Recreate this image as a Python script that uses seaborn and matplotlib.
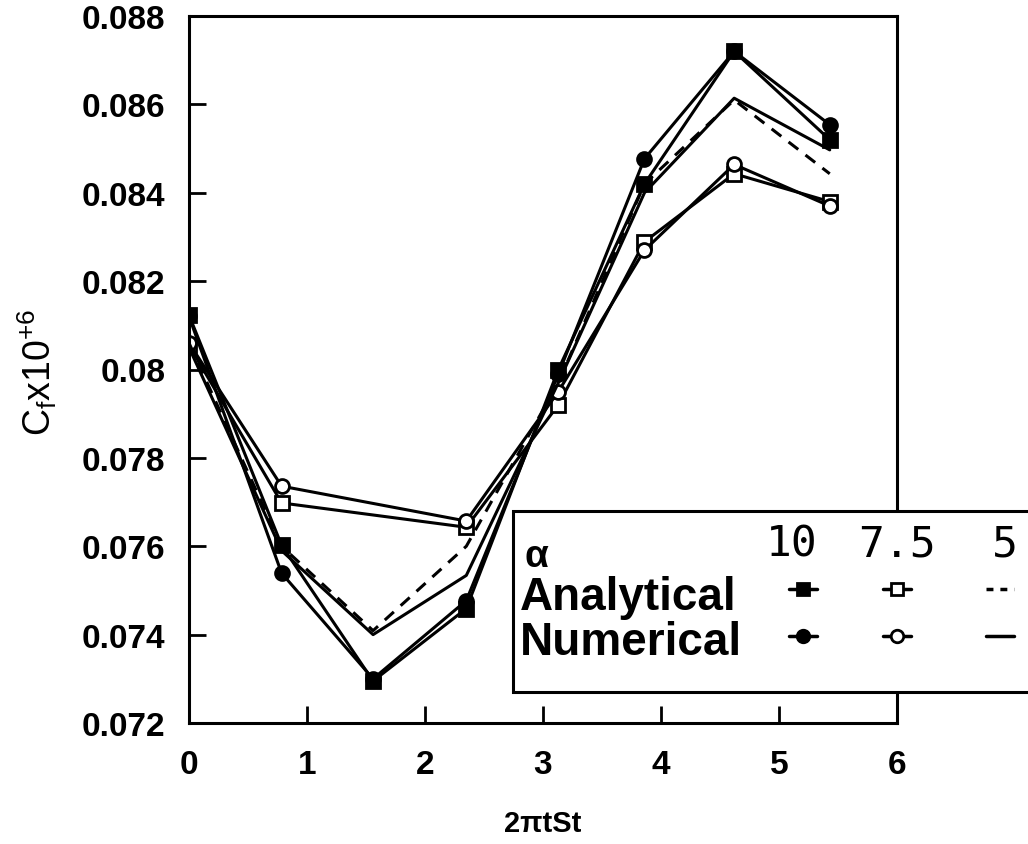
import numpy as np
import pandas as pd
import matplotlib
matplotlib.use("Agg")
import matplotlib.pyplot as plt
import seaborn as sns
from matplotlib.patches import Rectangle
from matplotlib.lines import Line2D

# ---- data ----
x_all = [0.0, 0.785, 1.56, 2.35, 3.13, 3.86, 4.62, 5.43]
x_75 = [0.0, 0.785, 2.35, 3.13, 3.86, 4.62, 5.43]   # alpha = 7.5 has no point near 1.56

analytical_10 = [0.08123, 0.07602, 0.07295, 0.07459, 0.08000, 0.08420, 0.08720, 0.08520]
numerical_10 = [0.08120, 0.07539, 0.07300, 0.07477, 0.07990, 0.08477, 0.08720, 0.08554]
analytical_75 = [0.08055, 0.07698, 0.07643, 0.07920, 0.08289, 0.08443, 0.08380]
numerical_75 = [0.08060, 0.07736, 0.07657, 0.07950, 0.08270, 0.08464, 0.08370]
analytical_5 = [0.08060, 0.07600, 0.07409, 0.07600, 0.07970, 0.08420, 0.08610, 0.08443]
numerical_5 = [0.08050, 0.07590, 0.07400, 0.07534, 0.07970, 0.08400, 0.08614, 0.08497]

y_ticks = [0.072, 0.074, 0.076, 0.078, 0.080, 0.082, 0.084, 0.086, 0.088]
y_tick_labels = ["0.072", "0.074", "0.076", "0.078", "0.08", "0.082", "0.084", "0.086", "0.088"]
x_ticks = [0, 1, 2, 3, 4, 5, 6]
legend_cols = ["10", "7.5", "5"]
legend_rows = ["Analytical", "Numerical"]

sns.set_style("ticks")
plt.rcParams["font.family"] = ["Liberation Sans", "DejaVu Sans"]
plt.rcParams["mathtext.fontset"] = "custom"
plt.rcParams["mathtext.rm"] = "Liberation Sans"
plt.rcParams["mathtext.it"] = "Liberation Sans"
plt.rcParams["text.color"] = "black"
plt.rcParams["axes.labelcolor"] = "black"
plt.rcParams["xtick.color"] = "black"
plt.rcParams["ytick.color"] = "black"

W, H = 1028, 845
fig = plt.figure(figsize=(W / 100, H / 100), dpi=100)
L, R, T, B = 189, 897, 17, 724
ax = fig.add_axes([L / W, 1 - B / H, (R - L) / W, (B - T) / H])

series = [
    (x_all, analytical_10, dict(marker="s", linestyle="-", mfc="black")),
    (x_all, numerical_10, dict(marker="o", linestyle="-", mfc="black")),
    (x_75, analytical_75, dict(marker="s", linestyle="-", mfc="white")),
    (x_75, numerical_75, dict(marker="o", linestyle="-", mfc="white")),
    (x_all, analytical_5, dict(marker=None, linestyle=(0, (4, 3)), mfc=None)),
    (x_all, numerical_5, dict(marker=None, linestyle="-", mfc=None)),
]
for xs, ys, st in series:
    df = pd.DataFrame({"x": xs, "y": ys})
    kw = dict(color="black", linewidth=2.2, ax=ax, linestyle=st["linestyle"])
    if st["marker"] is not None:
        kw.update(marker=st["marker"], markersize=10, markerfacecolor=st["mfc"],
                  markeredgecolor="black", markeredgewidth=2)
    sns.lineplot(data=df, x="x", y="y", sort=False, estimator=None, **kw)

ax.set_xlim(0, 6)
ax.set_ylim(0.072, 0.088)
ax.set_yticks(y_ticks)
ax.set_yticklabels(y_tick_labels)
ax.set_xticks(x_ticks)
ax.set_xticklabels([str(t) for t in x_ticks])
ax.tick_params(axis="both", direction="in", length=12, width=2, labelsize=24, colors="black")
ax.tick_params(axis="y", pad=17)
ax.tick_params(axis="x", pad=19)
for lab in ax.get_xticklabels() + ax.get_yticklabels():
    lab.set_fontweight("bold")
for s in ax.spines.values():
    s.set_linewidth(2.2)
    s.set_color("black")
ax.set_xlabel("")
ax.set_ylabel("")

fig.text(543 / W, 1 - 824 / H, "2\u03c0tSt", ha="center", va="center", fontsize=21,
         fontweight="bold")
fig.text(37 / W, 1 - 372 / H, r"$\mathregular{C_{f}x10^{+6}}$", rotation=90,
         ha="center", va="center", fontsize=27)

# ---- custom legend box (extends past the right edge as in the reference) ----
fig.add_artist(Rectangle((513 / W, 1 - 693 / H), (1100 - 513) / W, (693 - 512) / H,
                         transform=fig.transFigure, facecolor="white", edgecolor="black",
                         linewidth=2.2, zorder=10, clip_on=False))
fig.text(524 / W, 1 - 557 / H, "\u03b1", ha="left", va="center", fontsize=28,
         fontweight="bold", zorder=11)
for lab, cx in zip(legend_cols, [792, 897, 1005]):
    fig.text(cx / W, 1 - 545 / H, lab, ha="center", va="center", fontsize=31,
             family="DejaVu Sans Mono", zorder=11)
for lab, cy in zip(legend_rows, [598, 643]):
    fig.text(520 / W, 1 - cy / H, lab, ha="left", va="center", fontsize=33,
             fontweight="bold", zorder=11)

samples = [
    (803, 590, "s", "black", "-"), (897, 590, "s", "white", "-"), (1000, 590, None, None, (0, (2, 2))),
    (803, 637, "o", "black", "-"), (897, 637, "o", "white", "-"), (1000, 637, None, None, "-"),
]
for cx, cy, m, fc, ls in samples:
    fig.add_artist(Line2D([(cx - 14) / W, (cx + 14) / W], [1 - cy / H, 1 - cy / H],
                          transform=fig.transFigure, color="black", linewidth=2.5,
                          linestyle=ls, marker=None, zorder=11))
    if m is not None:
        fig.add_artist(Line2D([cx / W], [1 - cy / H], transform=fig.transFigure,
                              marker=m, markersize=9, markerfacecolor=fc,
                              markeredgecolor="black", markeredgewidth=2,
                              linestyle="none", zorder=12))

fig.savefig("out.png", dpi=100, facecolor="white")
